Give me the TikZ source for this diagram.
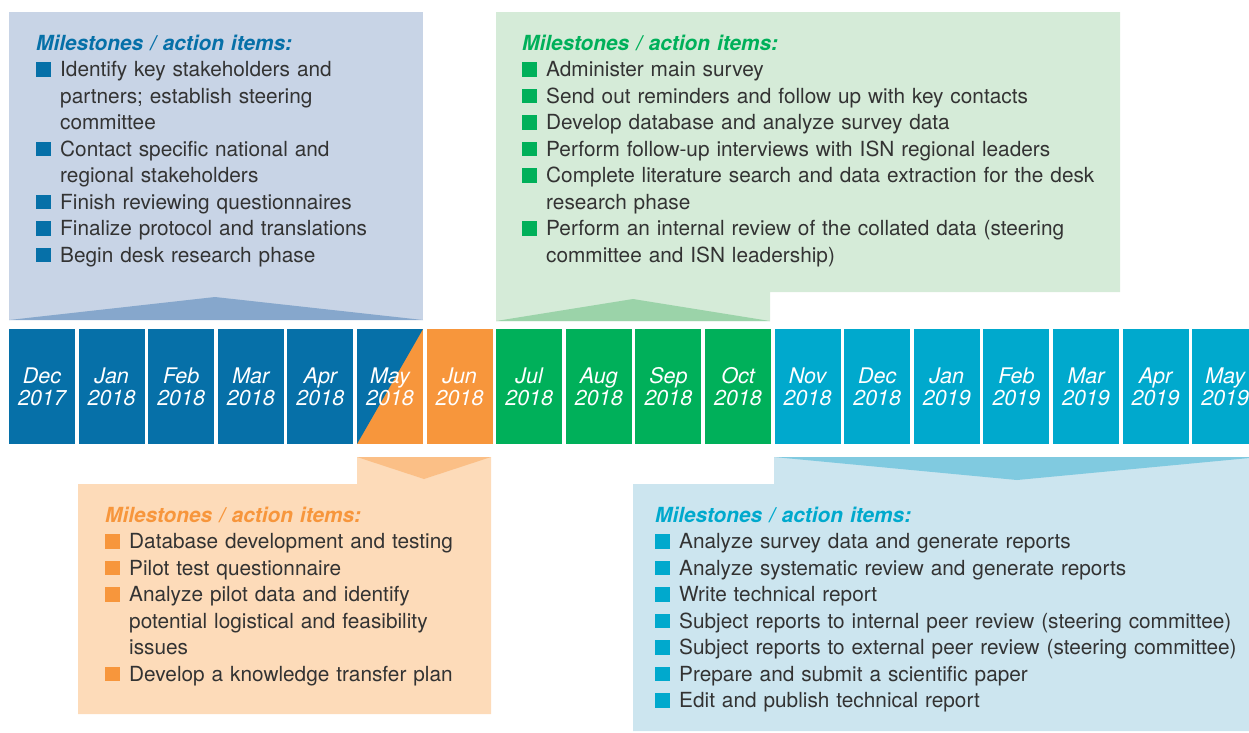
\documentclass[tikz,border=0pt]{standalone}
\usepackage{fontspec}
\setmainfont{TeX Gyre Heros}
\usepackage{xcolor}

\definecolor{tlblue}{HTML}{0670A8}
\definecolor{tlorange}{HTML}{F7963C}
\definecolor{tlgreen}{HTML}{00B05A}
\definecolor{tlcyan}{HTML}{00A9CD}
\definecolor{paleblue}{HTML}{C8D4E6}
\definecolor{palegreen}{HTML}{D5EBD8}
\definecolor{paleorange}{HTML}{FDDBB9}
\definecolor{palecyan}{HTML}{CCE5EF}
\definecolor{tipblue}{HTML}{86A7CC}
\definecolor{tipgreen}{HTML}{9BD3A9}
\definecolor{tiporange}{HTML}{FBBF86}
\definecolor{tipcyan}{HTML}{80CAE0}

\newcommand{\milestonehead}[1]{{\color{#1}\bfseries\itshape Milestones / action items:}}
\newcommand{\actionitem}[2]{\par\hangindent=24pt\hangafter=1\noindent
  \makebox[24pt][l]{\textcolor{#1}{\rule{15pt}{14.5pt}}}#2}

\begin{document}
\begin{tikzpicture}[x=1pt, y=-1pt,
  monthcell/.style={minimum width=66pt, minimum height=115pt, inner sep=0pt,
    text depth=0pt, text=white, align=center,
    font=\fontsize{21.5}{22}\selectfont\itshape},
  notes/.style={anchor=base west, inner sep=0pt, text width=600pt, align=left,
    text=black!80, font=\fontsize{20.8}{26.5}\selectfont}]
\useasboundingbox (0,0) rectangle (1249,732);
% callout boxes
\fill[paleblue] (9,12) rectangle (423,320);
\fill[tipblue] (9,320) -- (215,297) -- (423,320) -- cycle;
\fill[palegreen] (496,12) -- (1120,12) -- (1120,292) -- (770,292)
  -- (770,321) -- (496,321) -- cycle;
\fill[tipgreen] (496,321) -- (633,299) -- (770,321) -- cycle;
\fill[paleorange] (357,457) -- (491,457) -- (491,714) -- (78,714)
  -- (78,484) -- (357,484) -- cycle;
\fill[tiporange] (357,457) -- (491,457) -- (424,479) -- cycle;
\fill[palecyan] (774,457) -- (1249,457) -- (1249,731) -- (633,731)
  -- (633,484) -- (774,484) -- cycle;
\fill[tipcyan] (774,457) -- (1260,457) -- (1017,480) -- cycle;
% months
\node[monthcell, fill=tlblue] (m0) at (42,386.5) {Dec\\2017};
\node[monthcell, fill=tlblue] (m1) at (111.6,386.5) {Jan\\2018};
\node[monthcell, fill=tlblue] (m2) at (181.2,386.5) {Feb\\2018};
\node[monthcell, fill=tlblue] (m3) at (250.8,386.5) {Mar\\2018};
\node[monthcell, fill=tlblue] (m4) at (320.4,386.5) {Apr\\2018};
\node[monthcell, fill=tlorange, path picture={\fill[tlblue]
  (path picture bounding box.north west) -- (path picture bounding box.north east)
  -- (path picture bounding box.south west) -- cycle;}] (m5) at (390,386.5) {May\\2018};
\node[monthcell, fill=tlorange] (m6) at (459.6,386.5) {Jun\\2018};
\node[monthcell, fill=tlgreen] (m7) at (529.2,386.5) {Jul\\2018};
\node[monthcell, fill=tlgreen] (m8) at (598.8,386.5) {Aug\\2018};
\node[monthcell, fill=tlgreen] (m9) at (668.4,386.5) {Sep\\2018};
\node[monthcell, fill=tlgreen] (m10) at (738,386.5) {Oct\\2018};
\node[monthcell, fill=tlcyan] (m11) at (807.6,386.5) {Nov\\2018};
\node[monthcell, fill=tlcyan] (m12) at (877.2,386.5) {Dec\\2018};
\node[monthcell, fill=tlcyan] (m13) at (946.8,386.5) {Jan\\2019};
\node[monthcell, fill=tlcyan] (m14) at (1016.4,386.5) {Feb\\2019};
\node[monthcell, fill=tlcyan] (m15) at (1086,386.5) {Mar\\2019};
\node[monthcell, fill=tlcyan] (m16) at (1155.6,386.5) {Apr\\2019};
\node[monthcell, fill=tlcyan] (m17) at (1225.2,386.5) {May\\2019};
% milestone texts
\node[notes] (notesA) at (36,50) {\milestonehead{tlblue}
  \actionitem{tlblue}{Identify key stakeholders and\newline partners; establish steering\newline committee}
  \actionitem{tlblue}{Contact specific national and\newline regional stakeholders}
  \actionitem{tlblue}{Finish reviewing questionnaires}
  \actionitem{tlblue}{Finalize protocol and translations}
  \actionitem{tlblue}{Begin desk research phase}\par};
\node[notes] (notesB) at (522,50) {\milestonehead{tlgreen}
  \actionitem{tlgreen}{Administer main survey}
  \actionitem{tlgreen}{Send out reminders and follow up with key contacts}
  \actionitem{tlgreen}{Develop database and analyze survey data}
  \actionitem{tlgreen}{Perform follow-up interviews with ISN regional leaders}
  \actionitem{tlgreen}{Complete literature search and data extraction for the desk\newline research phase}
  \actionitem{tlgreen}{Perform an internal review of the collated data (steering\newline committee and ISN leadership)}\par};
\node[notes] (notesC) at (105,522) {\milestonehead{tlorange}
  \actionitem{tlorange}{Database development and testing}
  \actionitem{tlorange}{Pilot test questionnaire}
  \actionitem{tlorange}{Analyze pilot data and identify\newline potential logistical and feasibility\newline issues}
  \actionitem{tlorange}{Develop a knowledge transfer plan}\par};
\node[notes] (notesD) at (655,522) {\milestonehead{tlcyan}
  \actionitem{tlcyan}{Analyze survey data and generate reports}
  \actionitem{tlcyan}{Analyze systematic review and generate reports}
  \actionitem{tlcyan}{Write technical report}
  \actionitem{tlcyan}{Subject reports to internal peer review (steering committee)}
  \actionitem{tlcyan}{Subject reports to external peer review (steering committee)}
  \actionitem{tlcyan}{Prepare and submit a scientific paper}
  \actionitem{tlcyan}{Edit and publish technical report}\par};
\end{tikzpicture}
\end{document}
